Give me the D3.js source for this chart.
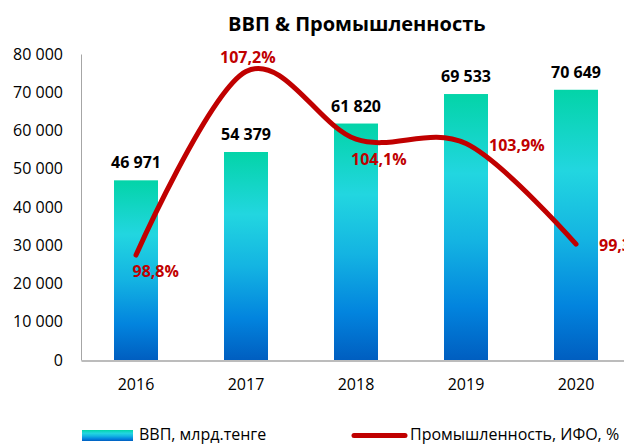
<!DOCTYPE html>
<html>
<head>
<meta charset="utf-8">
<script src="https://cdn.jsdelivr.net/npm/d3@7"></script>
<style>
  html, body { margin: 0; padding: 0; background: #fff; }
  svg { display: block; font-family: "Open Sans", "Noto Sans", sans-serif; }
</style>
</head>
<body>
<svg id="chart" width="624" height="445"></svg>
<script>
// ---- data ----
const years = ["2016", "2017", "2018", "2019", "2020"];
const gdp = [46971, 54379, 61820, 69533, 70649];
const ifo = [98.8, 107.2, 104.1, 103.9, 99.3];
const yTicks = [0, 10000, 20000, 30000, 40000, 50000, 60000, 70000, 80000];
const title = "ВВП & Промышленность";
const seriesNames = ["ВВП, млрд.тенге", "Промышленность, ИФО, %"];

// ---- layout ----
const W = 624, H = 445;
const plot = { left: 81, right: 631, top: 54, bottom: 360 };
const lineColor = "#C00000";
const axisColor = "#A6A6A6";
// label offsets for line value labels (relative to point; text-anchor start)
const ifoLabelOffset = [[-3.5, 22], [-26, -8.5], [-5, 25.5], [23, 7], [23, 6.5]];

const svg = d3.select("#chart");
const fmtNum = v => d3.format(",")(v).replace(/,/g, " ");
const fmtPct = v => v.toFixed(1).replace(".", ",") + "%";

const defs = svg.append("defs");
const grad = defs.append("linearGradient")
  .attr("id", "barGrad").attr("x1", 0).attr("y1", 0).attr("x2", 0).attr("y2", 1);
[[0, "#03D4A8"], [0.3, "#22D6E0"], [0.55, "#14B4E2"], [0.8, "#0284DE"], [1, "#005EC0"]]
  .forEach(([o, c]) => grad.append("stop").attr("offset", o).attr("stop-color", c));

const x = d3.scaleBand().domain(years).range([plot.left, plot.right])
  .paddingInner(0.6).paddingOuter(0.3);
const y = d3.scaleLinear().domain([0, 80000]).range([plot.bottom, plot.top]);
const y2 = d3.scaleLinear().domain([94, 108]).range([plot.bottom, plot.top]);

// title
svg.append("text").attr("x", 228).attr("y", 31)
  .attr("font-size", 20).attr("font-weight", "bold").attr("fill", "#000")
  .text(title);

// bars
svg.append("g").selectAll("rect").data(gdp).join("rect")
  .attr("x", (d, i) => x(years[i]))
  .attr("y", d => y(d))
  .attr("width", x.bandwidth())
  .attr("height", d => y(0) - y(d))
  .attr("fill", "url(#barGrad)");

// left axis
const gy = svg.append("g").attr("transform", `translate(${plot.left},0)`)
  .call(d3.axisLeft(y).tickValues(yTicks).tickSize(0).tickPadding(18).tickFormat(fmtNum));
gy.select(".domain").attr("stroke", axisColor).attr("stroke-width", 1);
gy.selectAll("text").attr("font-size", 16).attr("fill", "#000").attr("font-family", "Open Sans");

// bottom axis
const gx = svg.append("g").attr("transform", `translate(0,${plot.bottom + 0.5})`)
  .call(d3.axisBottom(x).tickSize(0).tickPadding(18));
gx.select(".domain").attr("stroke", axisColor).attr("stroke-width", 1.5);
gx.selectAll("text").attr("font-size", 16).attr("fill", "#000").attr("font-family", "Open Sans");

// bar value labels
svg.append("g").selectAll("text").data(gdp).join("text")
  .attr("x", (d, i) => x(years[i]) + x.bandwidth() / 2)
  .attr("y", d => y(d) - 12)
  .attr("text-anchor", "middle")
  .attr("font-size", 16).attr("font-weight", "bold").attr("fill", "#000")
  .text(fmtNum);

// line
const cx = i => x(years[i]) + x.bandwidth() / 2;
const line = d3.line().x((d, i) => cx(i)).y(d => y2(d)).curve(d3.curveCardinal.tension(0));
svg.append("path").datum(ifo)
  .attr("d", line).attr("fill", "none")
  .attr("stroke", lineColor).attr("stroke-width", 5)
  .attr("stroke-linecap", "round").attr("stroke-linejoin", "round");

// line labels
svg.append("g").selectAll("text").data(ifo).join("text")
  .attr("x", (d, i) => cx(i) + ifoLabelOffset[i][0])
  .attr("y", (d, i) => y2(d) + ifoLabelOffset[i][1])
  .attr("font-size", 16).attr("font-weight", "bold").attr("fill", lineColor)
  .text(fmtPct);

// legend
const lg = svg.append("g");
lg.append("rect").attr("x", 82).attr("y", 430).attr("width", 51).attr("height", 11)
  .attr("fill", "url(#barGrad)");
lg.append("text").attr("x", 139).attr("y", 440).attr("font-size", 16).attr("fill", "#000")
  .text(seriesNames[0]);
lg.append("line").attr("x1", 354).attr("x2", 405).attr("y1", 435.5).attr("y2", 435.5)
  .attr("stroke", lineColor).attr("stroke-width", 5).attr("stroke-linecap", "round");
lg.append("text").attr("x", 410).attr("y", 440).attr("font-size", 16).attr("fill", "#000")
  .text(seriesNames[1]);
</script>
</body>
</html>
